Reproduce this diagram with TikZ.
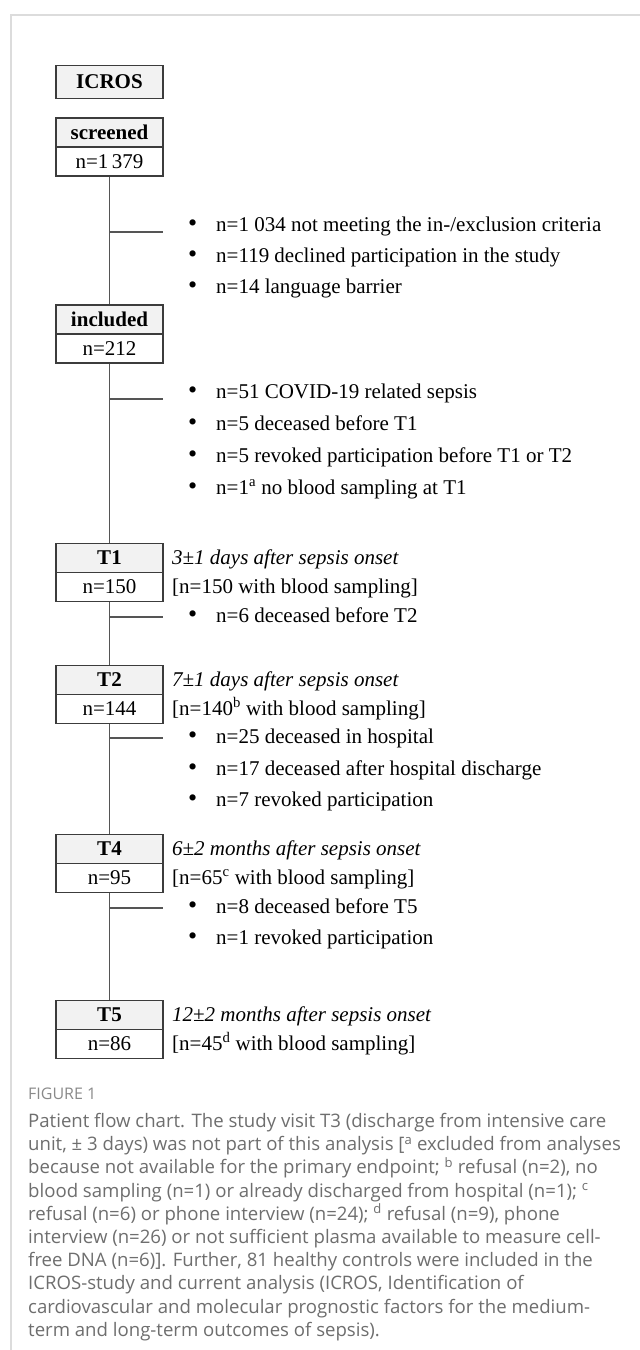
\documentclass[tikz,border=0pt]{standalone}
\usepackage{fontspec}
\setmainfont{Liberation Serif}
\newfontfamily\capfont{Open Sans}
\definecolor{boxc}{HTML}{3C3C3C}
\definecolor{hdrfill}{HTML}{F2F2F2}
\definecolor{linec}{HTML}{555555}
\definecolor{cardc}{HTML}{DCDCDC}
\definecolor{capc}{HTML}{6E6E6E}
\definecolor{figc}{HTML}{8A8A8A}
\begin{document}
\begin{tikzpicture}[x=1pt,y=-1pt,
  hdr/.style={draw=boxc, fill=hdrfill, line width=1.1pt, minimum width=107pt, minimum height=29pt, inner sep=0pt, font=\fontsize{21}{24}\selectfont\bfseries},
  cnt/.style={draw=boxc, fill=white, line width=1.1pt, minimum width=107pt, minimum height=29pt, inner sep=0pt, font=\fontsize{21}{24}\selectfont},
  side/.style={anchor=base west, inner sep=0pt, font=\fontsize{21}{24}\selectfont},
  bul/.style={anchor=base west, inner sep=0pt, font=\fontsize{21}{24}\selectfont},
  conn/.style={draw=linec, line width=1.1pt}]
\useasboundingbox (0,0) rectangle (640,1350);
\fill[white] (0,0) rectangle (640,1350);
\draw[cardc, line width=1.3pt] (11,1350) -- (11,15) -- (640,15);

\newcommand{\bl}[1]{\makebox[28pt][l]{\raisebox{-0.5pt}{\fontsize{26}{26}\selectfont\textbullet}}#1}

% ICROS
\node[hdr, minimum height=33pt] (icros) at (109.5,82) {ICROS};

% screened
\node[hdr] (scrH) at (109.5,132.5) {screened};
\node[cnt] (scrC) at (109.5,161.5) {n=1\,379};
\coordinate (b1) at (110,232);
\coordinate (b1e) at (163,232);
\node[bul] (s1) at (188,231) {\bl{n=1 034 not meeting the in-/exclusion criteria}};
\node[bul] (s2) at (188,262) {\bl{n=119 declined participation in the study}};
\node[bul] (s3) at (188,293) {\bl{n=14 language barrier}};

% included
\node[hdr] (incH) at (109.5,319.5) {included};
\node[cnt] (incC) at (109.5,348.5) {n=212};
\coordinate (b2) at (110,399);
\coordinate (b2e) at (163,399);
\node[bul] (i1) at (188,398) {\bl{n=51 COVID-19 related sepsis}};
\node[bul] (i2) at (188,430) {\bl{n=5 deceased before T1}};
\node[bul] (i3) at (188,462) {\bl{n=5 revoked participation before T1 or T2}};
\node[bul] (i4) at (188,494) {\bl{n=1\textsuperscript{a} no blood sampling at T1}};

% T1
\node[hdr] (t1H) at (109.5,558) {T1};
\node[cnt] (t1C) at (109.5,587) {n=150};
\node[side] (t1a) at (172,564) {\itshape 3±1 days after sepsis onset};
\node[side] (t1b) at (172,593) {[n=150 with blood sampling]};
\coordinate (b3) at (110,617);
\coordinate (b3e) at (163,617);
\node[bul] (u1) at (188,622) {\bl{n=6 deceased before T2}};

% T2
\node[hdr] (t2H) at (109.5,680) {T2};
\node[cnt] (t2C) at (109.5,709) {n=144};
\node[side] (t2a) at (172,686) {\itshape 7±1 days after sepsis onset};
\node[side] (t2b) at (172,715) {[n=140\textsuperscript{b} with blood sampling]};
\coordinate (b4) at (110,738);
\coordinate (b4e) at (163,738);
\node[bul] (v1) at (188,743) {\bl{n=25 deceased in hospital}};
\node[bul] (v2) at (188,775) {\bl{n=17 deceased after hospital discharge}};
\node[bul] (v3) at (188,806) {\bl{n=7 revoked participation}};

% T4
\node[hdr] (t4H) at (109.5,849) {T4};
\node[cnt] (t4C) at (109.5,878) {n=95};
\node[side] (t4a) at (172,855) {\itshape 6±2 months after sepsis onset};
\node[side] (t4b) at (172,884) {[n=65\textsuperscript{c} with blood sampling]};
\coordinate (b5) at (110,908);
\coordinate (b5e) at (163,908);
\node[bul] (w1) at (188,913) {\bl{n=8 deceased before T5}};
\node[bul] (w2) at (188,944) {\bl{n=1 revoked participation}};

% T5
\node[hdr] (t5H) at (109.5,1015) {T5};
\node[cnt] (t5C) at (109.5,1044) {n=86};
\node[side] (t5a) at (172,1021) {\itshape 12±2 months after sepsis onset};
\node[side] (t5b) at (172,1050) {[n=45\textsuperscript{d} with blood sampling]};

% connectors
\draw[conn] (scrC.south) -- (incH.north);
\draw[conn] (b1) -- (b1e);
\draw[conn] (incC.south) -- (t1H.north);
\draw[conn] (b2) -- (b2e);
\draw[conn] (t1C.south) -- (t2H.north);
\draw[conn] (b3) -- (b3e);
\draw[conn] (t2C.south) -- (t4H.north);
\draw[conn] (b4) -- (b4e);
\draw[conn] (t4C.south) -- (t5H.north);
\draw[conn] (b5) -- (b5e);

% caption
\node[anchor=base west, inner sep=0pt, text=figc, font=\capfont\fontsize{16}{18}\selectfont] (fig) at (28,1099) {FIGURE 1};
\node[anchor=north west, inner sep=0pt, text=capc, align=left, font=\capfont\fontsize{18.6}{23.2}\selectfont] (cap) at (28,1113) {%
Patient flow chart. The study visit T3 (discharge from intensive care\\
unit, ± 3 days) was not part of this analysis [\textsuperscript{a} excluded from analyses\\
because not available for the primary endpoint; \textsuperscript{b} refusal (n=2), no\\
blood sampling (n=1) or already discharged from hospital (n=1); \textsuperscript{c}\\
refusal (n=6) or phone interview (n=24); \textsuperscript{d} refusal (n=9), phone\\
interview (n=26) or not sufficient plasma available to measure cell-\\
free DNA (n=6)]. Further, 81 healthy controls were included in the\\
ICROS-study and current analysis (ICROS, Identification of\\
cardiovascular and molecular prognostic factors for the medium-\\
term and long-term outcomes of sepsis).};
\end{tikzpicture}
\end{document}
